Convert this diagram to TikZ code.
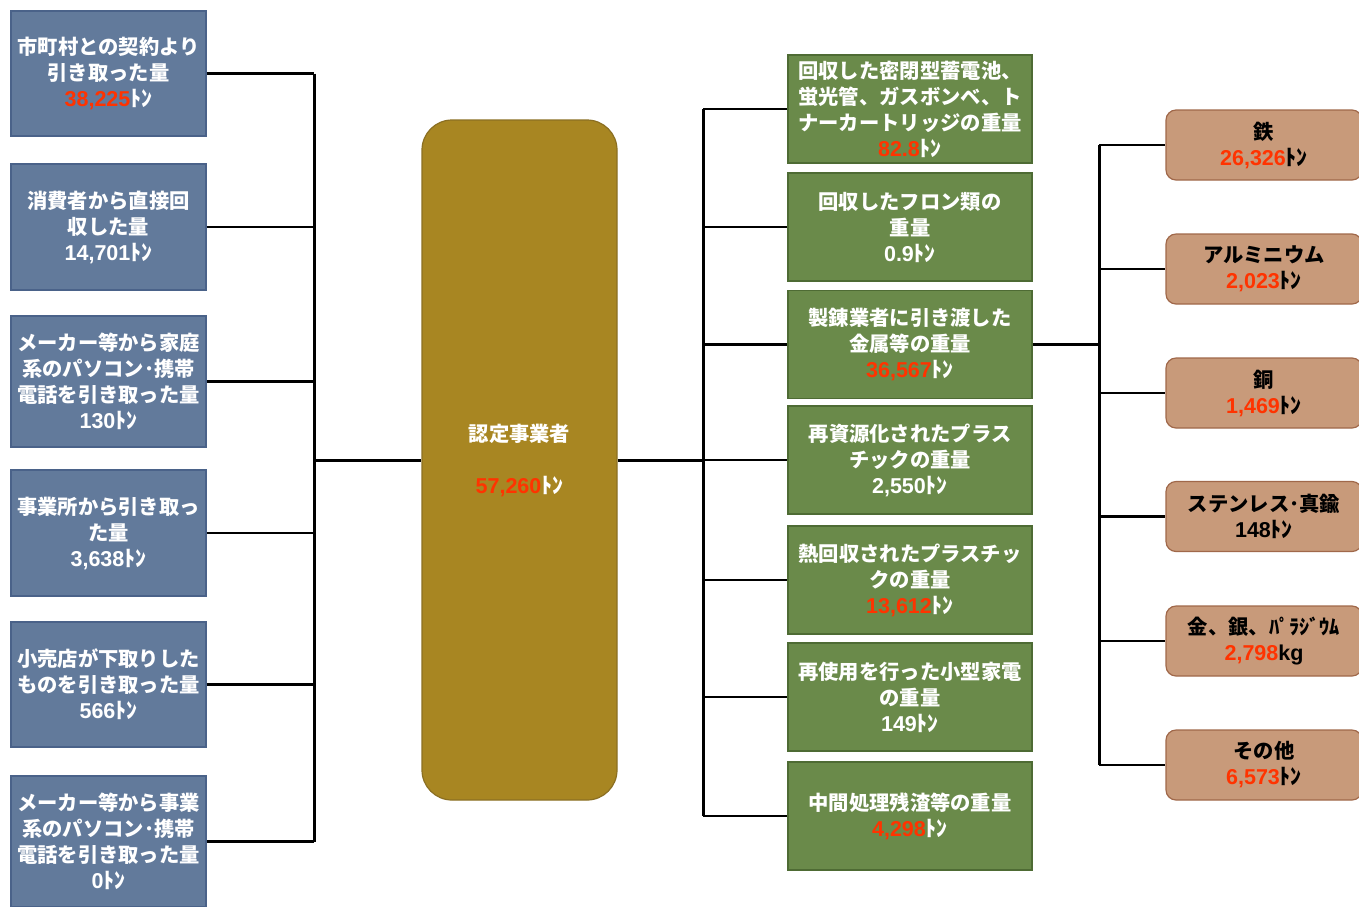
\documentclass[tikz,border=0pt]{standalone}
\usepackage{fontspec}
\setmainfont{Noto Sans CJK JP}
\newfontfamily\numf{Liberation Sans}
\definecolor{blueF}{RGB}{98,122,155}
\definecolor{blueD}{RGB}{74,98,137}
\definecolor{goldF}{RGB}{168,134,34}
\definecolor{goldD}{RGB}{139,111,34}
\definecolor{greenF}{RGB}{106,138,74}
\definecolor{greenD}{RGB}{78,107,52}
\definecolor{brownF}{RGB}{200,154,122}
\definecolor{brownD}{RGB}{160,104,74}
\definecolor{numred}{RGB}{255,51,0}
\newcommand{\rn}[1]{{\numf\fontsize{21.5}{26}\selectfont\color{numred}#1}}
\newcommand{\wn}[1]{{\numf\fontsize{21.5}{26}\selectfont #1}}
\newcommand{\ton}{{\fontsize{22}{26}\selectfont ﾄﾝ}}
\begin{document}
\begin{tikzpicture}[x=1pt,y=-1pt,
  box/.style={line width=1.2pt, align=center, inner sep=0pt,
    font=\fontsize{20.3}{26}\selectfont\bfseries},
  bluebox/.style={box, fill=blueF, draw=blueD, text=white, minimum width=195pt},
  greenbox/.style={box, fill=greenF, draw=greenD, text=white, minimum width=244pt, minimum height=108pt},
  brownbox/.style={box, fill=brownF, draw=brownD, text=black, minimum width=196pt, minimum height=70pt, rounded corners=10pt},
  goldbox/.style={box, fill=goldF, draw=goldD, text=white, minimum width=195pt, minimum height=680pt, rounded corners=30pt},
  conn/.style={line width=2.2pt, black},
  mainconn/.style={line width=3pt, black}]
\useasboundingbox (0,0) rectangle (1359,906);

% left boxes
\node[bluebox, minimum height=125pt] (l1) at (108.5,73.5) {市町村との契約より\\引き取った量\\\rn{38,225}\ton};
\node[bluebox, minimum height=126pt] (l2) at (108.5,227) {消費者から直接回\\収した量\\\wn{14,701}\ton};
\node[bluebox, minimum height=131pt] (l3) at (108.5,381.5) {メーカー等から家庭\\系のパソコン･携帯\\電話を引き取った量\\\wn{130}\ton};
\node[bluebox, minimum height=126pt] (l4) at (108.5,533) {事業所から引き取っ\\た量\\\wn{3,638}\ton};
\node[bluebox, minimum height=125pt] (l5) at (108.5,684.5) {小売店が下取りした\\ものを引き取った量\\\wn{566}\ton};
\node[bluebox, minimum height=131pt] (l6) at (108.5,841.5) {メーカー等から事業\\系のパソコン･携帯\\電話を引き取った量\\\wn{0}\ton};

% center
\node[goldbox] (c) at (519.5,460) {認定事業者\\[26pt]\rn{57,260}\ton};

% green boxes
\node[greenbox] (g1) at (910,109) {回収した密閉型蓄電池、\\蛍光管、ガスボンベ、ト\\ナーカートリッジの重量\\\rn{82.8}\ton};
\node[greenbox] (g2) at (910,227) {回収したフロン類の\\重量\\\wn{0.9}\ton};
\node[greenbox] (g3) at (910,344.5) {製錬業者に引き渡した\\金属等の重量\\\rn{36,567}\ton};
\node[greenbox] (g4) at (910,460) {再資源化されたプラス\\チックの重量\\\wn{2,550}\ton};
\node[greenbox] (g5) at (910,580) {熱回収されたプラスチッ\\クの重量\\\rn{13,612}\ton};
\node[greenbox] (g6) at (910,697) {再使用を行った小型家電\\の重量\\\wn{149}\ton};
\node[greenbox] (g7) at (910,816) {中間処理残渣等の重量\\\rn{4,298}\ton};

% brown boxes
\node[brownbox] (b1) at (1264,145) {鉄\\\rn{26,326}\ton};
\node[brownbox] (b2) at (1264,269) {アルミニウム\\\rn{2,023}\ton};
\node[brownbox] (b3) at (1264,393) {銅\\\rn{1,469}\ton};
\node[brownbox] (b4) at (1264,516.5) {ステンレス･真鍮\\\wn{148}\ton};
\node[brownbox] (b5) at (1264,641) {金、銀、ﾊﾟﾗｼﾞｳﾑ\\\rn{2,798}\wn{kg}};
\node[brownbox] (b6) at (1264,765) {その他\\\rn{6,573}\ton};

% buses
\coordinate (lbus) at (314,460);
\coordinate (gbus) at (703,460);
\coordinate (bbus) at (1099,344.5);

\foreach \n in {l1,l2,l3,l4,l5,l6} \draw[conn] (\n.east) -- (\n.east -| lbus);
\draw[mainconn] (l1.east -| lbus) -- (l6.east -| lbus);
\draw[mainconn] (lbus) -- (c.west);

\draw[mainconn] (c.east) -- (gbus);
\draw[mainconn] (g1.west -| gbus) -- (g7.west -| gbus);
\foreach \n in {g1,g2,g3,g4,g5,g6,g7} \draw[conn] (\n.west -| gbus) -- (\n.west);

\draw[mainconn] (g3.east) -- (bbus);
\draw[mainconn] (b1.west -| bbus) -- (b6.west -| bbus);
\foreach \n in {b1,b2,b3,b4,b5,b6} \draw[conn] (\n.west -| bbus) -- (\n.west);
\end{tikzpicture}
\end{document}
